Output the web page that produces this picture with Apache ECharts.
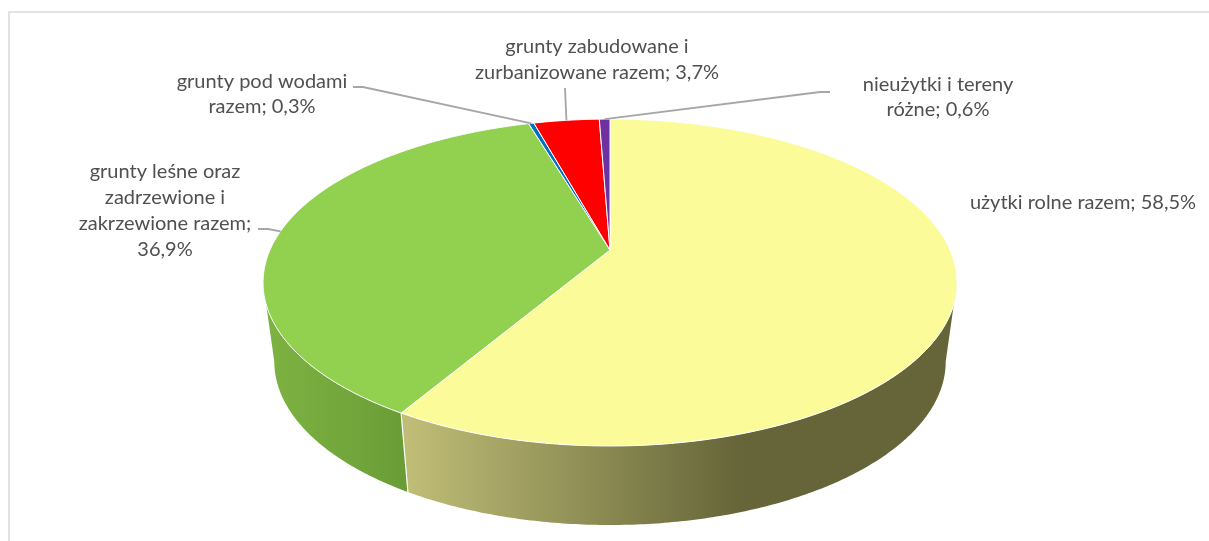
<!DOCTYPE html>
<html><head><meta charset="utf-8">
<style>html,body{margin:0;padding:0;background:#fff}#c{width:1209px;height:541px}</style>
<script src="https://cdn.jsdelivr.net/npm/echarts@6/dist/echarts.min.js"></script>
</head><body><div id="c"></div>
<script>
const categories = ['użytki rolne razem','grunty leśne oraz zadrzewione i zakrzewione razem','grunty pod wodami razem','grunty zabudowane i zurbanizowane razem','nieużytki i tereny różne'];
const values = [58.5,36.9,0.3,3.7,0.6];
const labelLines = [
  ['użytki rolne razem; 58,5%'],
  ['grunty leśne oraz','zadrzewione i','zakrzewione razem;','36,9%'],
  ['grunty pod wodami','razem; 0,3%'],
  ['grunty zabudowane i','zurbanizowane razem; 3,7%'],
  ['nieużytki i tereny','różne; 0,6%']
];
const topColors = ['#FCFB9A','#92D050','#0070C0','#FF0000','#7030A0'];
// label layout: centre x, first-line centre y, line height
const labelPos = [[1083,203,26],[165,172,26],[262,82,25],[597,47,26],[938,85,25]];
// leader elbows: [start point, elbow] per slice (null: none)
const leaders = [null,[[258,229],[268,229]],[[353,87],[363,87]],[[565,88],[565,88]],[[830,92],[820,92]]];

// perspective projection of the pie disc
const P = {cx:610, ay:250, A:340, B:157, k:0.199, depth:79, A2:329};
function proj(theta, bottom){
  const u = Math.sin(theta), v = -Math.cos(theta), d = 1 - P.k*v;
  return bottom
    ? [P.cx + P.A2*u/d, P.ay + P.depth + P.B*v/d]
    : [P.cx + P.A*u/d, P.ay + P.B*v/d];
}
function arc(a0,a1,bottom){
  const n = Math.max(2,Math.ceil(Math.abs(a1-a0)/0.01)), pts=[];
  for(let i=0;i<=n;i++) pts.push(proj(a0+(a1-a0)*i/n,bottom));
  return pts;
}
const total = values.reduce((a,b)=>a+b,0);
function sliceAngles(i){
  let s=0; for(let j=0;j<i;j++) s+=values[j];
  return [s/total*2*Math.PI,(s+values[i])/total*2*Math.PI];
}
// silhouette angle at the far left/right of the disc
const silR = Math.PI - Math.acos(P.k) , silL = 2*Math.PI - silR;
const grad=(x0,x1,stops)=>new echarts.graphic.LinearGradient(x0,0,x1,0,stops.map((c,i)=>({offset:c[0],color:c[1]})),true);
const wallFill = [
  grad(408,740,[[0,'#BFBD76'],[1,'#656539']]),
  grad(272,408,[[0,'#7DB242'],[1,'#6A9C36']])
];
function renderItem(params, api){
  const i = params.dataIndex, [a0,a1] = sliceAngles(i), ch=[];
  // wall (only the part facing the viewer)
  const w0=Math.max(a0,silR), w1=Math.min(a1,silL);
  if(w1>w0 && i<2){
    const pts=arc(w0,w1,false).concat(arc(w1,w0,true));
    ch.push({type:'polygon',z2:1,shape:{points:pts},style:{fill:wallFill[i],stroke:null}});
    const edge = i===0 ? w1 : null;
    if(edge!==null) ch.push({type:'line',z2:2,shape:{x1:proj(edge)[0],y1:proj(edge)[1],x2:proj(edge,true)[0],y2:proj(edge,true)[1]},style:{stroke:'#fff',lineWidth:1.2}});
  }
  // top face
  ch.push({type:'polygon',z2:3,shape:{points:[[P.cx,P.ay]].concat(arc(a0,a1,false))},
    style:{fill:topColors[i],stroke:'#fff',lineWidth:1,lineJoin:'round'}});
  // leader
  if(leaders[i]){
    const m=proj((a0+a1)/2);
    ch.push({type:'polyline',z2:4,shape:{points:[leaders[i][0],leaders[i][1],m]},style:{fill:null,stroke:'#A6A6A6',lineWidth:1.8}});
  }
  // label
  const [lx,ly,lh]=labelPos[i];
  labelLines[i].forEach((t,j)=>ch.push({type:'text',z2:5,style:{text:t,x:lx,y:ly+j*lh,align:'center',verticalAlign:'middle',
    font:'20px Lato, sans-serif',fill:'#505050'}}));
  return {type:'group',children:ch};
}
const chart=echarts.init(document.getElementById('c'),null,{renderer:'canvas'});
chart.setOption({
  animation:false,
  backgroundColor:'#fff',
  graphic:[{type:'polyline',silent:true,shape:{points:[[9,541],[9,12],[1209,12]]},style:{fill:null,stroke:'#D9D9D9',lineWidth:1.5}}],
  series:[{type:'custom',coordinateSystem:'none',renderItem,silent:true,
    data:categories.map((n,i)=>({name:n,value:values[i]}))}]
});
</script></body></html>
